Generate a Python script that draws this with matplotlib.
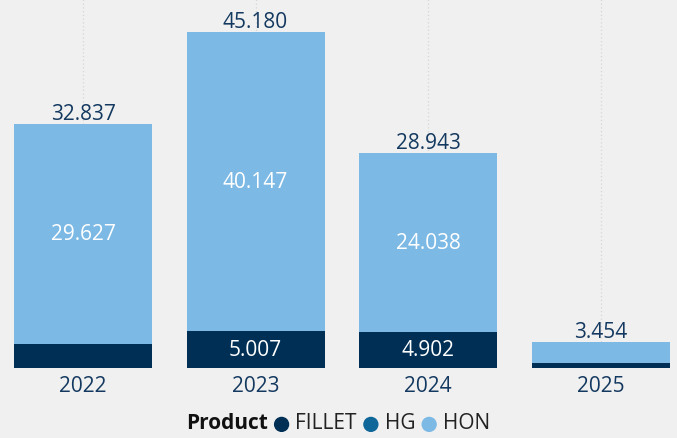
import matplotlib
matplotlib.use("Agg")
import matplotlib.pyplot as plt
from matplotlib.offsetbox import TextArea, DrawingArea, HPacker, AnchoredOffsetbox
from matplotlib.patches import Circle
import numpy as np

plt.rcParams['font.family'] = ['Open Sans', 'DejaVu Sans']

years = ["2022", "2023", "2024", "2025"]
products = ["FILLET", "HG", "HON"]
fillet = [3.210, 5.007, 4.902, 0.712]
hg = [0.000, 0.026, 0.003, 0.000]
hon = [29.627, 40.147, 24.038, 2.742]
totals = [32.837, 45.180, 28.943, 3.454]

colors = {"FILLET": "#002f56", "HG": "#0f6699", "HON": "#7cb9e5"}
bg = "#f0f0f0"
navy_text = "#143960"

fig = plt.figure(figsize=(6.77, 4.39), dpi=100, facecolor=bg)
ax = fig.add_axes([0, 70 / 439, 1, 369 / 439])
ax.set_facecolor(bg)

x = np.arange(len(years))
series = {"FILLET": fillet, "HG": hg, "HON": hon}
bottom = np.zeros(len(years))
for name in products:
    vals = np.array(series[name])
    ax.bar(x, vals, bottom=bottom, width=0.8, color=colors[name],
           edgecolor="none", zorder=2)
    for i, v in enumerate(vals):
        show = (name == "HON" and v > 10) or (name == "FILLET" and v > 4)
        if show:
            ax.text(x[i], bottom[i] + v / 2, f"{v:.3f}", ha="center", va="center",
                    color="white", fontsize=15, zorder=3)
    bottom += vals

for i, t in enumerate(totals):
    ax.annotate(f"{t:.3f}", (x[i], t), xytext=(0, 0), textcoords="offset points",
                ha="center", va="bottom", color=navy_text, fontsize=15, zorder=3)

for xi in x:
    ax.axvline(xi, color="#d6d6d6", lw=0.9, ls=(0, (1, 2)), zorder=0)

ax.set_xlim(-83 / 172.5, (677 - 83) / 172.5)
ax.set_ylim(0, 369 / 7.437)
ax.set_xticks(x)
ax.set_xticklabels(years, fontsize=15, color=navy_text)
ax.tick_params(axis="x", length=0, pad=5)
ax.set_yticks([])
for s in ax.spines.values():
    s.set_visible(False)

# Legend row: bold title followed by coloured dots and product names
items = [TextArea("Product", textprops=dict(fontsize=15, fontweight="bold", color="#111111"))]
for name in products:
    da = DrawingArea(12, 12, 0, 0)
    da.add_artist(Circle((6, 5), 5, color=colors[name]))
    items.append(da)
    items.append(TextArea(name, textprops=dict(fontsize=15, color="#222222")))
box = HPacker(children=items, align="center", pad=0, sep=4)
anchored = AnchoredOffsetbox(loc="center", child=box, frameon=False,
                             bbox_to_anchor=(338 / 677, 1 - 424 / 439),
                             bbox_transform=fig.transFigure, borderpad=0)
fig.add_artist(anchored)

fig.savefig("out.png", dpi=100, facecolor=bg)
